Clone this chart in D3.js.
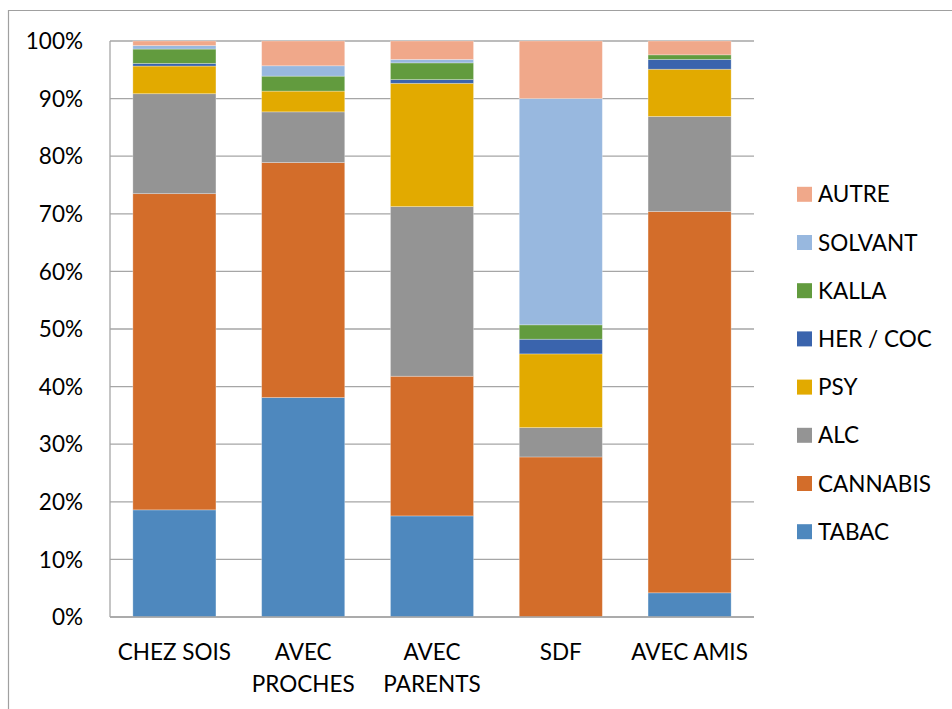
<!DOCTYPE html>
<html><head><meta charset="utf-8">
<script src="https://cdn.jsdelivr.net/npm/d3@7"></script>
<style>body{margin:0;background:#fff}svg{display:block}</style>
</head><body><svg id="c" width="952" height="709"></svg>
<script>
const categories = [["CHEZ SOIS"], ["AVEC", "PROCHES"], ["AVEC", "PARENTS"], ["SDF"], ["AVEC AMIS"]];
const seriesNames = ["TABAC", "CANNABIS", "ALC", "PSY", "HER / COC", "KALLA", "SOLVANT", "AUTRE"];
const TABAC    = [18.6, 38.1, 17.55, 0, 4.2];
const CANNABIS = [54.9, 40.8, 24.25, 27.8, 66.2];
const ALC      = [17.35, 8.8, 29.45, 5.1, 16.5];
const PSY      = [4.8, 3.6, 21.4, 12.8, 8.2];
const HERCOC   = [0.45, 0, 0.65, 2.55, 1.7];
const KALLA    = [2.5, 2.6, 2.9, 2.5, 0.8];
const SOLVANT  = [0.6, 1.8, 0.6, 39.3, 0];
const AUTRE    = [0.8, 4.3, 3.2, 10.0, 2.4];
const yTicks = [0, 10, 20, 30, 40, 50, 60, 70, 80, 90, 100];
const colors = ["#4E88BE", "#D36D2A", "#949494", "#E2AA00", "#3A64AD", "#629B3E", "#98B8DF", "#F0A88A"];

const values = [TABAC, CANNABIS, ALC, PSY, HERCOC, KALLA, SOLVANT, AUTRE];
const rows = categories.map((c, i) => {
  const r = {cat: c.join(" ")};
  seriesNames.forEach((s, j) => r[s] = values[j][i]);
  return r;
});
const stacked = d3.stack().keys(seriesNames)
  .offset(d3.stackOffsetExpand)(rows);

const svg = d3.select("#c");
const font = "Lato, 'Liberation Sans', sans-serif";
const fs = 22.5;
const L = 110, R = 754, T = 41, B = 617;

// outer frame
svg.append("path").attr("d", `M8.5,709 L8.5,10.5 L952,10.5`)
  .attr("fill", "none").attr("stroke", "#a0a0a0").attr("stroke-width", 1.2);

const x = d3.scaleBand().domain(rows.map(r => r.cat)).range([L, R])
  .paddingInner(0.355).paddingOuter(0.1775);
const y = d3.scaleLinear().domain([0, 1]).range([B, T]);

// grid
svg.append("g").selectAll("line").data(yTicks).join("line")
  .attr("x1", L).attr("x2", R)
  .attr("y1", d => y(d / 100)).attr("y2", d => y(d / 100))
  .attr("stroke", "#a6a6a6").attr("stroke-width", 1.3);
svg.append("line").attr("x1", L).attr("x2", L).attr("y1", T).attr("y2", B)
  .attr("stroke", "#a6a6a6").attr("stroke-width", 1.3);

// bars
svg.append("g").selectAll("g").data(stacked).join("g")
  .attr("fill", (d, i) => colors[i])
  .selectAll("rect").data(d => d).join("rect")
  .attr("x", d => x(d.data.cat))
  .attr("width", x.bandwidth())
  .attr("y", d => y(d[1]))
  .attr("height", d => Math.max(0, y(d[0]) - y(d[1])))
  .attr("stroke", "#ffffff").attr("stroke-opacity", 0.35).attr("stroke-width", 0.8);

// bottom axis line
svg.append("line").attr("x1", L).attr("x2", R).attr("y1", B).attr("y2", B)
  .attr("stroke", "#a6a6a6").attr("stroke-width", 1.5);

// y labels
svg.append("g").selectAll("text").data(yTicks).join("text")
  .attr("x", 83).attr("y", d => y(d / 100)).attr("dy", "0.36em")
  .attr("text-anchor", "end").attr("font-family", font).attr("font-size", fs)
  .attr("fill", "#000").text(d => d + "%");

// x labels
const xl = svg.append("g").selectAll("text").data(categories).join("text")
  .attr("x", (d, i) => x(rows[i].cat) + x.bandwidth() / 2)
  .attr("y", 652)
  .attr("text-anchor", "middle").attr("font-family", font).attr("font-size", fs)
  .attr("fill", "#000");
xl.selectAll("tspan").data(d => d).join("tspan")
  .attr("x", function() { return this.parentNode.getAttribute("x"); })
  .attr("dy", (d, i) => i === 0 ? "0.36em" : "31.6")
  .text(d => d);

// legend
const legendOrder = seriesNames.map((s, i) => i).reverse();
const lg = svg.append("g").selectAll("g").data(legendOrder).join("g")
  .attr("transform", (d, k) => `translate(797,${194.3 + k * 48.2})`);
lg.append("rect").attr("x", 0).attr("y", -7.5).attr("width", 15).attr("height", 15)
  .attr("fill", d => colors[d]);
lg.append("text").attr("x", 21).attr("y", 0).attr("dy", "0.36em")
  .attr("font-family", font).attr("font-size", fs).attr("fill", "#000")
  .text(d => seriesNames[d]);
</script></body></html>
